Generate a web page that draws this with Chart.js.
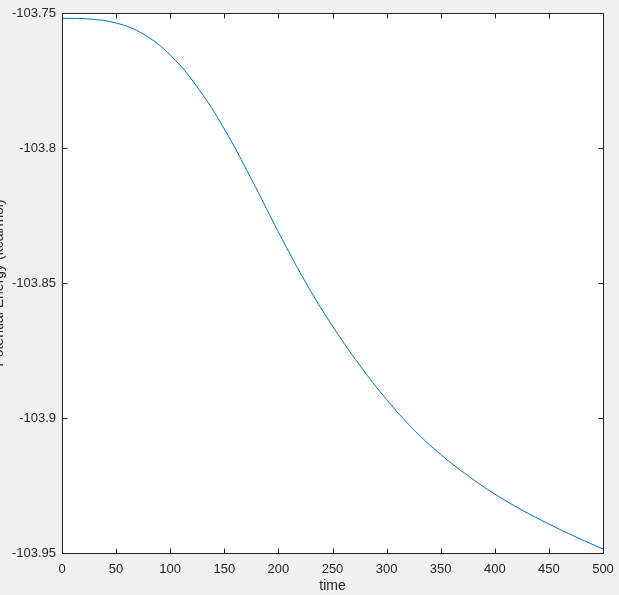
<!DOCTYPE html>
<html>
<head>
<meta charset="utf-8">
<script src="https://cdn.jsdelivr.net/npm/chart.js@4.4.1/dist/chart.umd.min.js"></script>
<style>
html,body{margin:0;padding:0;background:#f0f0f0;}
#wrap{width:619px;height:595px;position:relative;}
</style>
</head>
<body>
<div id="wrap"><canvas id="c" width="619" height="595"></canvas></div>
<script>
const times = [0,25,50,75,100,125,150,175,200,225,250,275,300,325,350,375,400,425,450,475,500];
const energies = [-103.75193,-103.75222,-103.75370,-103.75778,-103.76556,-103.77741,-103.79296,-103.81148,-103.83111,-103.84963,-103.86593,-103.88037,-103.89315,-103.90426,-103.91352,-103.92130,-103.92815,-103.93407,-103.93926,-103.94407,-103.94852];
const xTicks = [0,50,100,150,200,250,300,350,400,450,500];
const yTicks = [-103.95,-103.9,-103.85,-103.8,-103.75];
const yTickLabels = ['-103.95','-103.9','-103.85','-103.8','-103.75'];
const xTitle = 'time';
const yTitle = 'Potential Energy (kcal/mol)';

const axisColor = '#262626';
const fontSpec = {family: "'Liberation Sans', Arial, Helvetica, sans-serif", size: 13};

const framePlugin = {
  id: 'frame',
  beforeDraw(chart){
    const a = chart.chartArea, ctx = chart.ctx;
    ctx.save();
    ctx.fillStyle = '#ffffff';
    ctx.fillRect(a.left, a.top, a.right - a.left, a.bottom - a.top);
    ctx.restore();
  },
  afterDraw(chart){
    const a = chart.chartArea, ctx = chart.ctx;
    const xs = chart.scales.x, ys = chart.scales.y;
    ctx.save();
    ctx.strokeStyle = axisColor;
    ctx.lineWidth = 1;
    const L = Math.round(a.left)+0.5, R = Math.round(a.right)+0.5, T = Math.round(a.top)+0.5, B = Math.round(a.bottom)+0.5;
    ctx.beginPath();
    ctx.rect(L, T, R-L, B-T);
    ctx.stroke();
    const tl = 5;
    ctx.beginPath();
    xTicks.forEach(v => {
      const px = Math.round(xs.getPixelForValue(v))+0.5;
      ctx.moveTo(px, B); ctx.lineTo(px, B - tl);
      ctx.moveTo(px, T); ctx.lineTo(px, T + tl);
    });
    yTicks.forEach(v => {
      const py = Math.round(ys.getPixelForValue(v))+0.5;
      ctx.moveTo(L, py); ctx.lineTo(L + tl, py);
      ctx.moveTo(R, py); ctx.lineTo(R - tl, py);
    });
    ctx.stroke();
    ctx.restore();
  }
};

new Chart(document.getElementById('c'), {
  type: 'line',
  data: {
    datasets: [{
      data: times.map((t,i) => ({x: t, y: energies[i]})),
      borderColor: '#0072BD',
      borderWidth: 1,
      pointRadius: 0,
      fill: false,
      tension: 0.4
    }]
  },
  options: {
    responsive: false,
    animation: false,
    devicePixelRatio: 1,
    layout: {padding: {top: 13, right: 16, left: 0, bottom: 0}},
    plugins: {legend: {display: false}, tooltip: {enabled: false}},
    scales: {
      x: {
        type: 'linear', min: 0, max: 500,
        afterFit(s){ s.height = 42; s.paddingLeft = 0; s.paddingRight = 0; },
        afterBuildTicks(s){ s.ticks = xTicks.map(v => ({value: v})); },
        grid: {display: true, drawOnChartArea: false, drawTicks: false},
        border: {display: false},
        ticks: {color: axisColor, font: fontSpec, padding: 9, maxRotation: 0, autoSkip: false},
        title: {display: true, text: xTitle, color: axisColor, font: {family: fontSpec.family, size: 14}, padding: {top: 3, bottom: 0}}
      },
      y: {
        type: 'linear', min: -103.95, max: -103.75,
        afterFit(s){ s.width = 62; s.paddingTop = 0; s.paddingBottom = 0; },
        afterBuildTicks(s){ s.ticks = yTicks.map(v => ({value: v})); },
        grid: {display: true, drawOnChartArea: false, drawTicks: false},
        border: {display: false},
        ticks: {color: axisColor, font: fontSpec, padding: 6, autoSkip: false,
          callback(v){ const i = yTicks.findIndex(t => Math.abs(t - v) < 1e-9); return i >= 0 ? yTickLabels[i] : ''; }},
        title: {display: true, text: yTitle, color: axisColor, font: {family: fontSpec.family, size: 14}, padding: {top: -9, bottom: 0}}
      }
    }
  },
  plugins: [framePlugin]
});
</script>
</body>
</html>
